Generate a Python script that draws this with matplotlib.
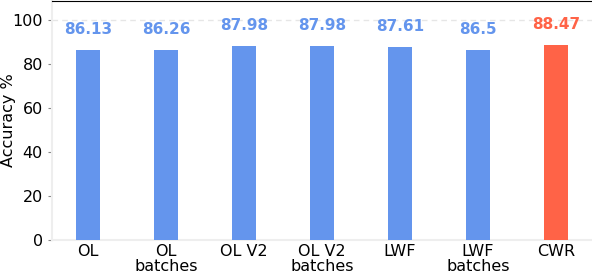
import matplotlib
matplotlib.use("Agg")
import matplotlib.pyplot as plt

categories = ["OL", "OL\nbatches", "OL V2", "OL V2\nbatches", "LWF", "LWF\nbatches", "CWR"]
values = [86.13, 86.26, 87.98, 87.98, 87.61, 86.5, 88.47]
labels = ["86.13", "86.26", "87.98", "87.98", "87.61", "86.5", "88.47"]
colors = ["#6495ED"] * 6 + ["#FF6347"]

fig = plt.figure(figsize=(5.92, 2.74), dpi=100)
ax = fig.add_axes([52/592, 1 - 240/274, 540/592, 239/274])
x = list(range(len(categories)))
ax.bar(x, values, width=0.31, color=colors, zorder=3)
for xi, v, lab, c in zip(x, values, labels, colors):
    ax.text(xi, v + 9.3, lab, ha="center", va="center", color=c,
            fontsize=11, fontweight="bold")
ax.axhline(100, color="#e6e6e6", linestyle=(0, (4, 3)), linewidth=1, zorder=1)
ax.set_xlim(-0.46, 6.46)
ax.set_ylim(0, 108.6)
ax.set_yticks([0, 20, 40, 60, 80, 100])
ax.set_xticks(x)
ax.set_xticklabels(categories, fontsize=11.5, linespacing=1.0)
ax.tick_params(axis="y", labelsize=11.5, length=3, color="#888888")
ax.tick_params(axis="x", length=0, pad=3)
ax.set_ylabel("Accuracy %", fontsize=11.5)
ax.yaxis.set_label_coords(-0.066, 0.5)
for s in ["left", "bottom"]:
    ax.spines[s].set_color("#eeeeee")
    ax.spines[s].set_linewidth(1.5)
ax.spines["right"].set_visible(False)
ax.spines["top"].set_color("black")
fig.savefig("out.png", dpi=100)
